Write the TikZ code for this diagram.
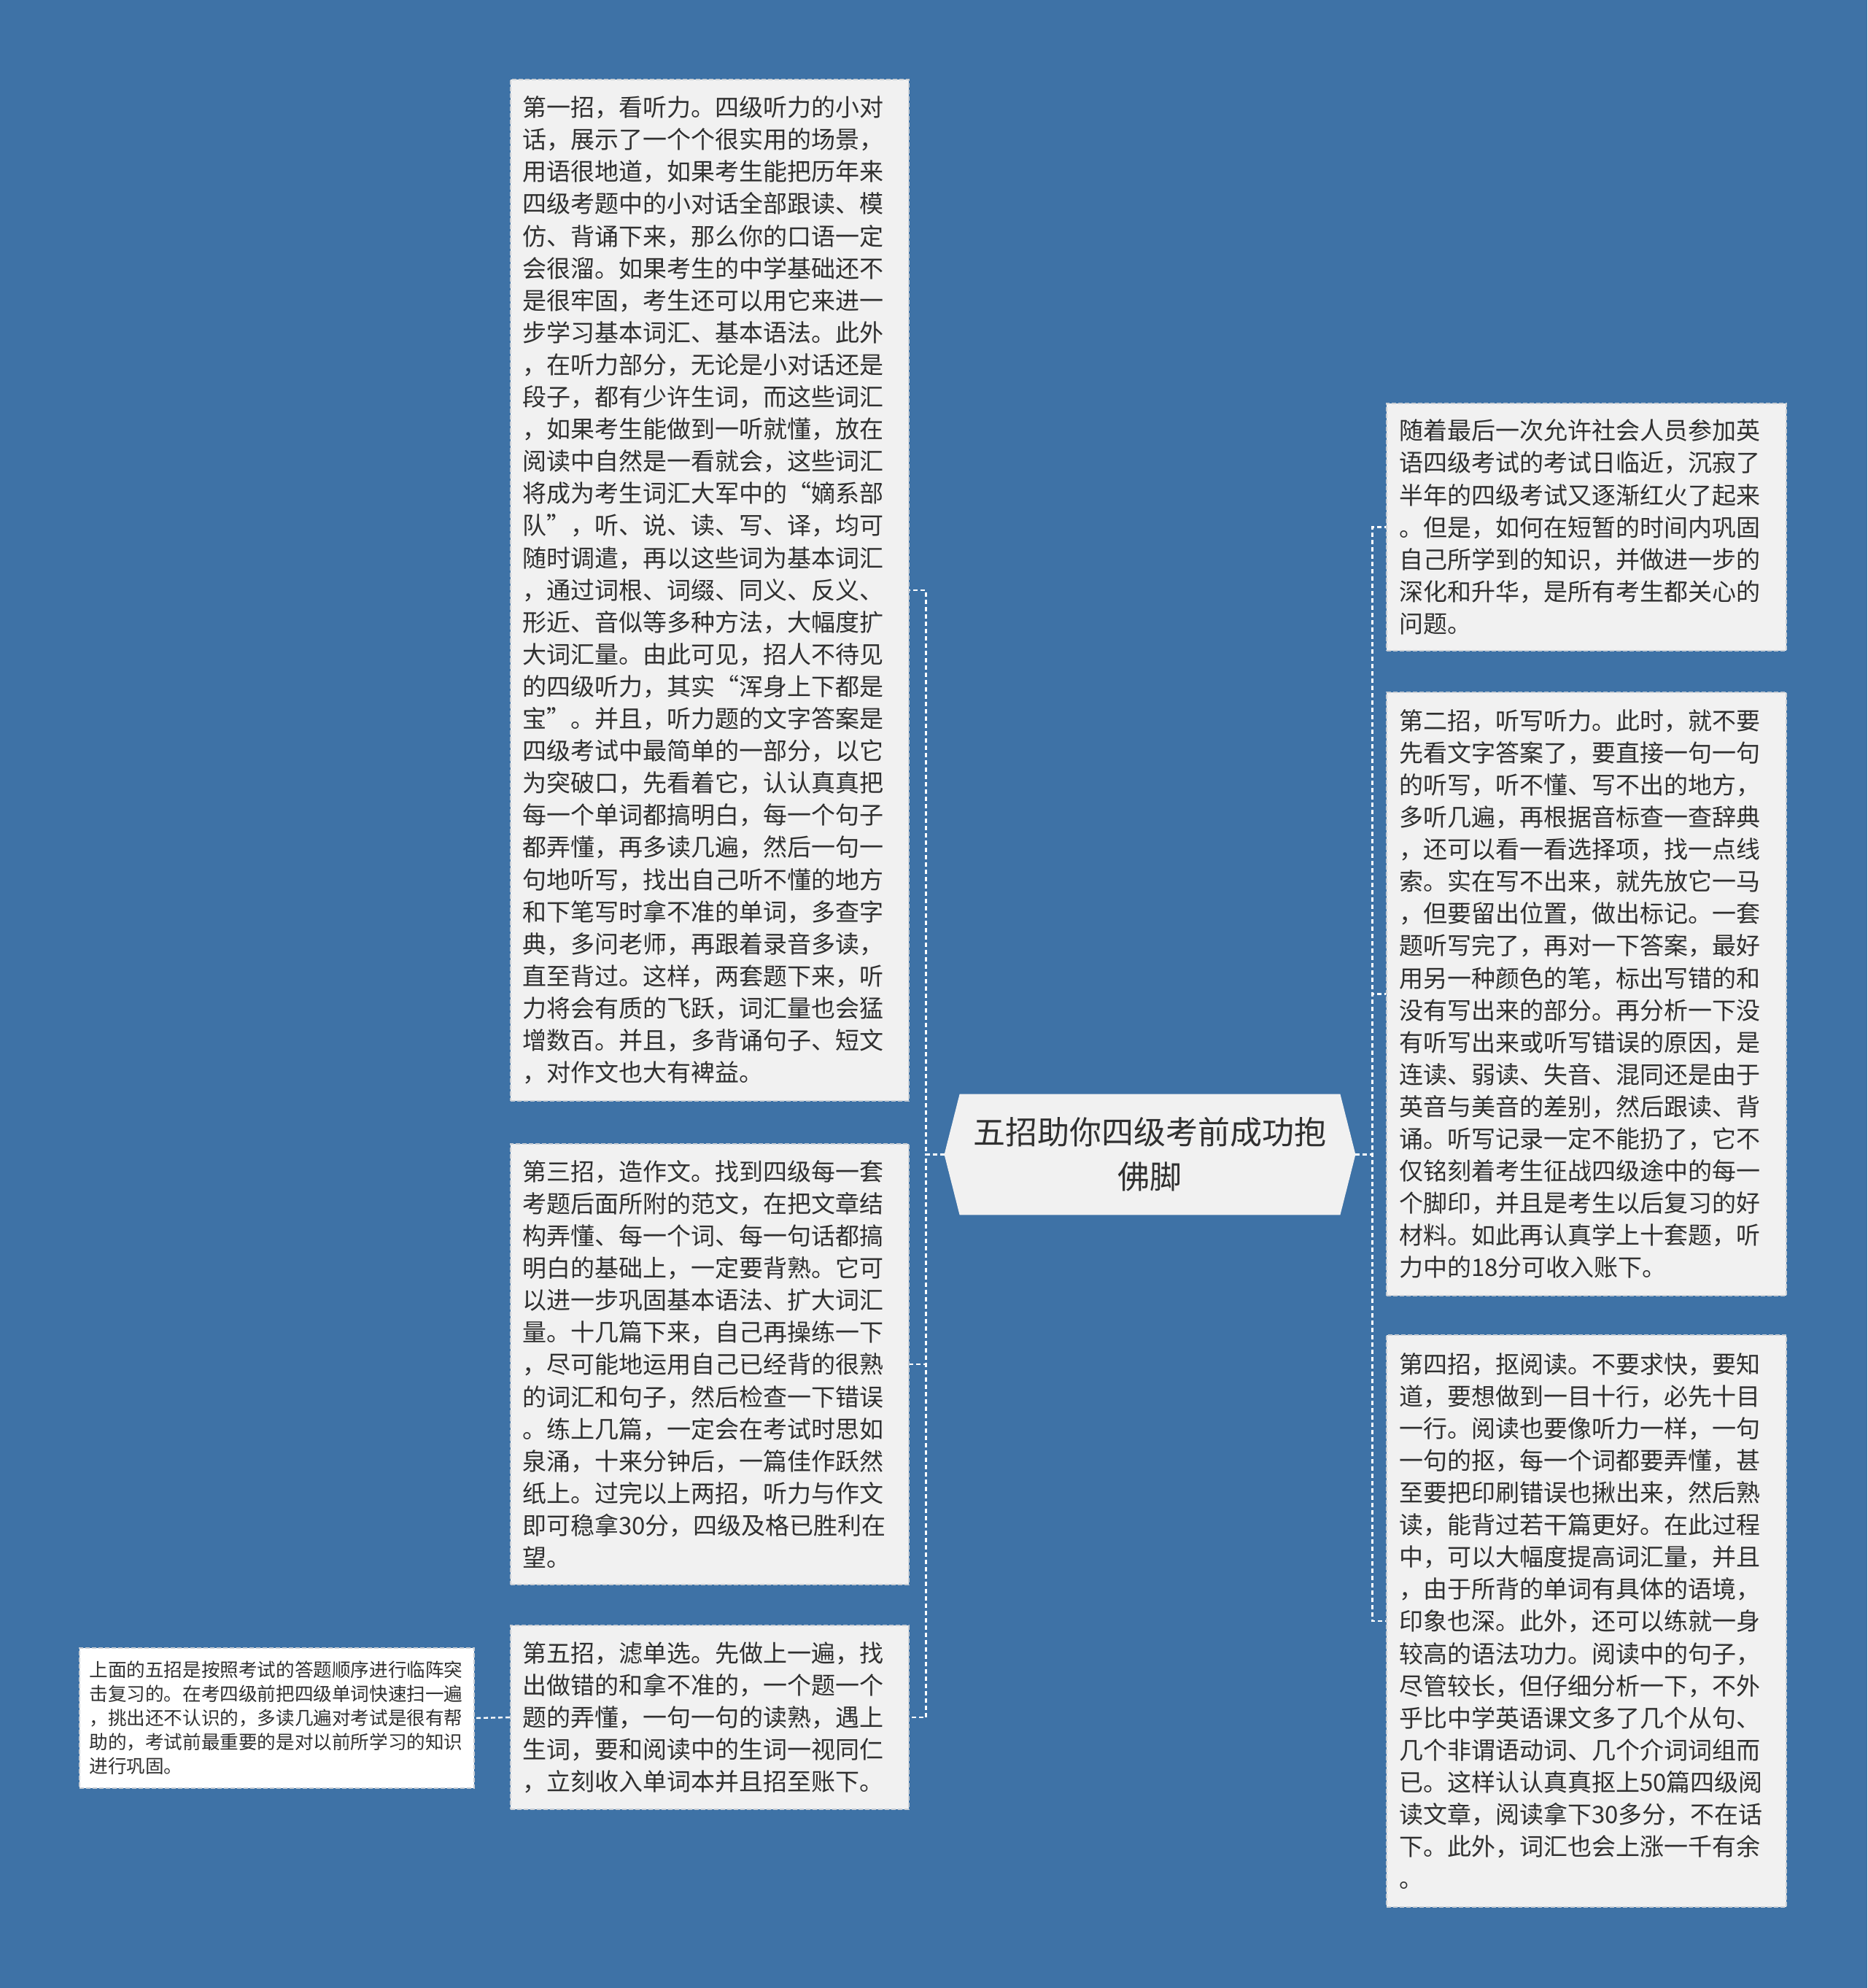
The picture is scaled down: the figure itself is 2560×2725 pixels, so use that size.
\documentclass[tikz,border=0pt]{standalone}
\usepackage{fontspec}
\setmainfont{Noto Sans CJK SC}
\usetikzlibrary{backgrounds,calc}
\definecolor{bg}{HTML}{3E72A6}
\definecolor{boxfill}{HTML}{F1F1F1}
\definecolor{boxline}{HTML}{C9CED4}
\definecolor{txt}{HTML}{303030}
\tikzset{
  box/.style={draw=boxline, fill=boxfill, dash pattern=on 3pt off 1.5pt, line width=0.8pt,
    align=left, text width=257pt, inner xsep=8pt, inner ysep=0pt,
    font=\fontsize{16.5pt}{22.05pt}\selectfont, text=txt, anchor=center},
  smallbox/.style={box, fill=white, text width=257pt, inner xsep=6.75pt,
    font=\fontsize{12.8pt}{16.5pt}\selectfont},
  centerbox/.style={align=center, inner sep=0pt, font=\fontsize{22pt}{30.5pt}\selectfont, text=txt},
  conn/.style={draw=white, line width=1.2pt, dash pattern=on 3pt off 2pt},
}
\begin{document}
\begin{tikzpicture}[x=0.5pt,y=-0.5pt]
\begin{scope}[on background layer]
\fill[bg] (0,0) rectangle (2560,2725);
\end{scope}
\useasboundingbox (0,0) rectangle (2560,2725);

% centre node
\node[centerbox, minimum width=260.5pt, minimum height=82.5pt] (c) at (1576.5,1582.5)
  {五招助你四级考前成功抱\\佛脚};
\coordinate (cL) at ($(c.west)+(-21,0)$);
\coordinate (cR) at ($(c.east)+(21,0)$);
\begin{scope}[on background layer]
\fill[boxfill] (c.north west) -- (c.north east) -- (cR) -- (c.south east) -- (c.south west) -- (cL) -- cycle;
\end{scope}

% left boxes
\node[box, minimum width=273pt, minimum height=700pt] (b1) at (973,809) {第一招，看听力。四级听力的小对\\
话，展示了一个个很实用的场景，\\
用语很地道，如果考生能把历年来\\
四级考题中的小对话全部跟读、模\\
仿、背诵下来，那么你的口语一定\\
会很溜。如果考生的中学基础还不\\
是很牢固，考生还可以用它来进一\\
步学习基本词汇、基本语法。此外\\
，在听力部分，无论是小对话还是\\
段子，都有少许生词，而这些词汇\\
，如果考生能做到一听就懂，放在\\
阅读中自然是一看就会，这些词汇\\
将成为考生词汇大军中的“嫡系部\\
队”，听、说、读、写、译，均可\\
随时调遣，再以这些词为基本词汇\\
，通过词根、词缀、同义、反义、\\
形近、音似等多种方法，大幅度扩\\
大词汇量。由此可见，招人不待见\\
的四级听力，其实“浑身上下都是\\
宝”。并且，听力题的文字答案是\\
四级考试中最简单的一部分，以它\\
为突破口，先看着它，认认真真把\\
每一个单词都搞明白，每一个句子\\
都弄懂，再多读几遍，然后一句一\\
句地听写，找出自己听不懂的地方\\
和下笔写时拿不准的单词，多查字\\
典，多问老师，再跟着录音多读，\\
直至背过。这样，两套题下来，听\\
力将会有质的飞跃，词汇量也会猛\\
增数百。并且，多背诵句子、短文\\
，对作文也大有裨益。};

\node[box, minimum width=273pt, minimum height=302pt] (b3) at (973,1870) {第三招，造作文。找到四级每一套\\
考题后面所附的范文，在把文章结\\
构弄懂、每一个词、每一句话都搞\\
明白的基础上，一定要背熟。它可\\
以进一步巩固基本语法、扩大词汇\\
量。十几篇下来，自己再操练一下\\
，尽可能地运用自己已经背的很熟\\
的词汇和句子，然后检查一下错误\\
。练上几篇，一定会在考试时思如\\
泉涌，十来分钟后，一篇佳作跃然\\
纸上。过完以上两招，听力与作文\\
即可稳拿30分，四级及格已胜利在\\
望。};

\node[box, minimum width=273pt, minimum height=126pt] (b5) at (973,2354) {第五招，滤单选。先做上一遍，找\\
出做错的和拿不准的，一个题一个\\
题的弄懂，一句一句的读熟，遇上\\
生词，要和阅读中的生词一视同仁\\
，立刻收入单词本并且招至账下。};

\node[smallbox, minimum width=270.5pt, minimum height=96pt] (sm) at (379.5,2355) {上面的五招是按照考试的答题顺序进行临阵突\\
击复习的。在考四级前把四级单词快速扫一遍\\
，挑出还不认识的，多读几遍对考试是很有帮\\
助的，考试前最重要的是对以前所学习的知识\\
进行巩固。};

% right boxes
\node[box, minimum width=274pt, minimum height=169.5pt] (in) at (2175,722.5) {随着最后一次允许社会人员参加英\\
语四级考试的考试日临近，沉寂了\\
半年的四级考试又逐渐红火了起来\\
。但是，如何在短暂的时间内巩固\\
自己所学到的知识，并做进一步的\\
深化和升华，是所有考生都关心的\\
问题。};

\node[box, minimum width=274pt, minimum height=413.5pt] (b2) at (2175,1362.5) {第二招，听写听力。此时，就不要\\
先看文字答案了，要直接一句一句\\
的听写，听不懂、写不出的地方，\\
多听几遍，再根据音标查一查辞典\\
，还可以看一看选择项，找一点线\\
索。实在写不出来，就先放它一马\\
，但要留出位置，做出标记。一套\\
题听写完了，再对一下答案，最好\\
用另一种颜色的笔，标出写错的和\\
没有写出来的部分。再分析一下没\\
有听写出来或听写错误的原因，是\\
连读、弱读、失音、混同还是由于\\
英音与美音的差别，然后跟读、背\\
诵。听写记录一定不能扔了，它不\\
仅铭刻着考生征战四级途中的每一\\
个脚印，并且是考生以后复习的好\\
材料。如此再认真学上十套题，听\\
力中的18分可收入账下。};

\node[box, minimum width=274pt, minimum height=392pt] (b4) at (2175,2222) {第四招，抠阅读。不要求快，要知\\
道，要想做到一目十行，必先十目\\
一行。阅读也要像听力一样，一句\\
一句的抠，每一个词都要弄懂，甚\\
至要把印刷错误也揪出来，然后熟\\
读，能背过若干篇更好。在此过程\\
中，可以大幅度提高词汇量，并且\\
，由于所背的单词有具体的语境，\\
印象也深。此外，还可以练就一身\\
较高的语法功力。阅读中的句子，\\
尽管较长，但仔细分析一下，不外\\
乎比中学英语课文多了几个从句、\\
几个非谓语动词、几个介词词组而\\
已。这样认认真真抠上50篇四级阅\\
读文章，阅读拿下30多分，不在话\\
下。此外，词汇也会上涨一千有余\\
。};

% connectors
\draw[conn] (cL) -- ++(-25,0) |- (b1.east);
\draw[conn] (cL) -- ++(-25,0) |- (b3.east);
\draw[conn] (cL) -- ++(-25,0) |- (b5.east);
\draw[conn] (cR) -- ++(23,0) |- (in.west);
\draw[conn] (cR) -- ++(23,0) |- (b2.west);
\draw[conn] (cR) -- ++(23,0) |- (b4.west);
\draw[conn] (b5.west) -- (sm.east);
\end{tikzpicture}
\end{document}
